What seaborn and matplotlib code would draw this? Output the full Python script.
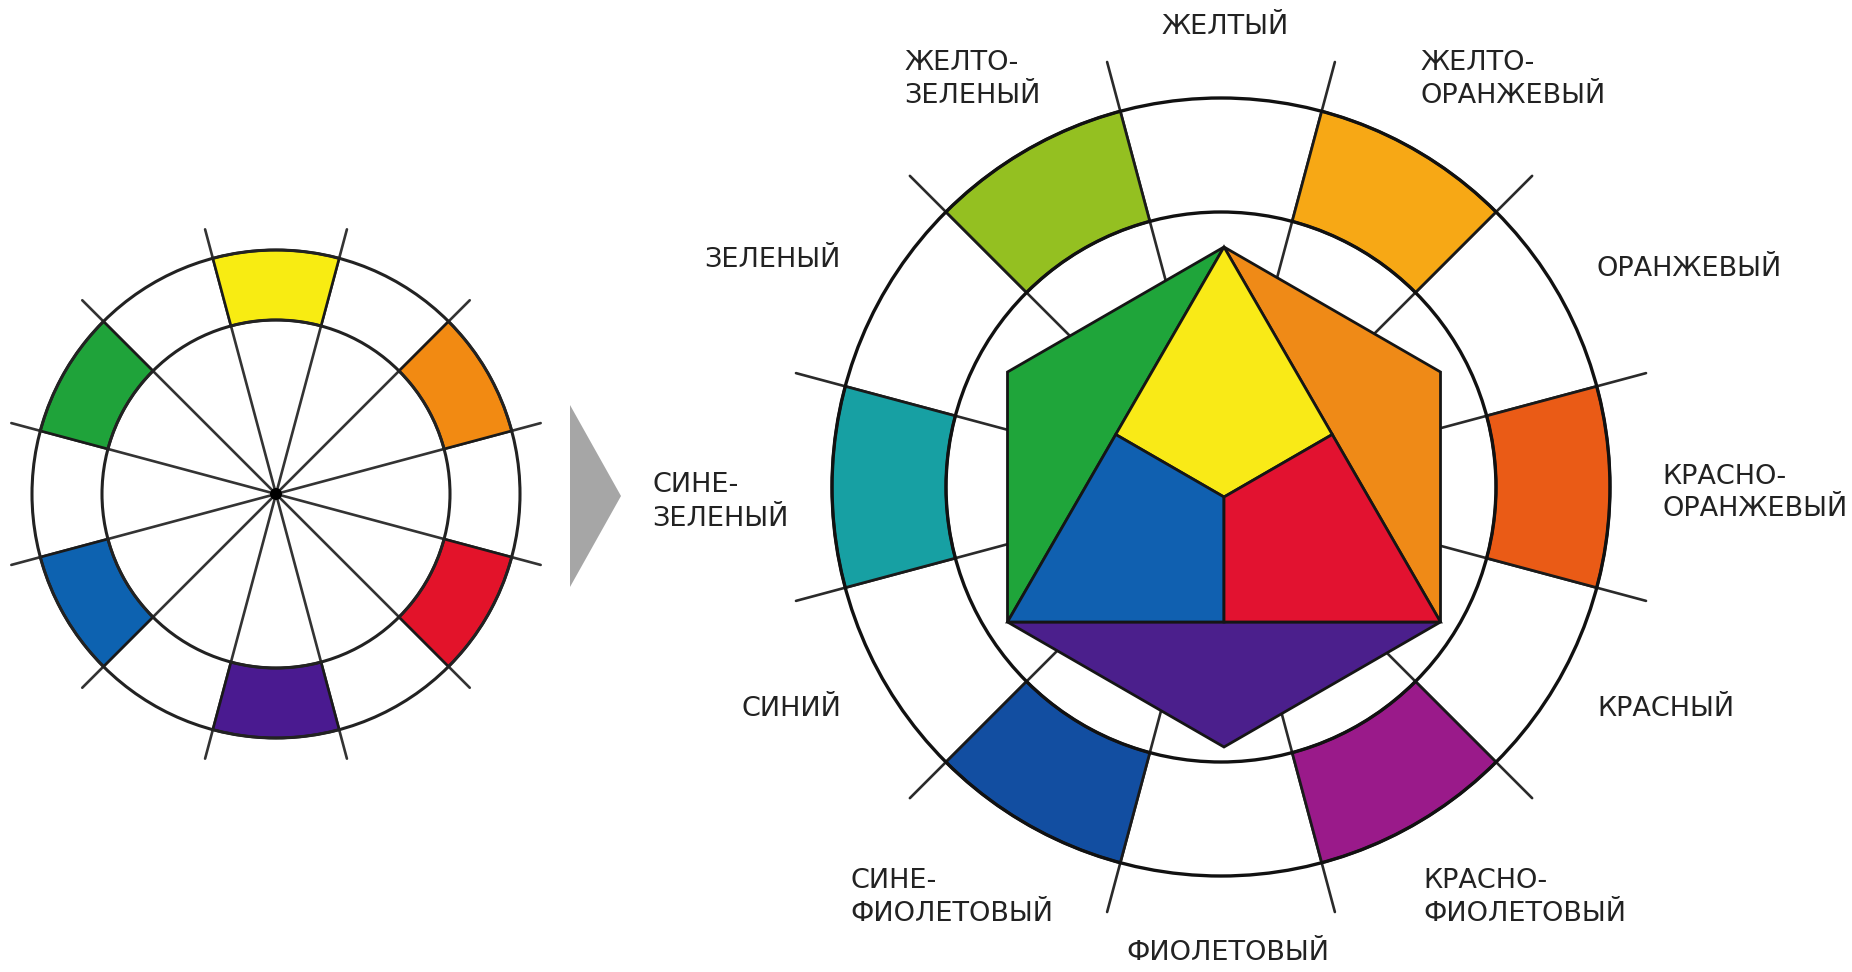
import numpy as np
import matplotlib
matplotlib.use("Agg")
import matplotlib.pyplot as plt
from matplotlib.patches import Wedge, Circle, Polygon
import seaborn as sns

# --- données : 12 couleurs du cercle d'Itten ---
color_names = ['ЖЕЛТЫЙ', 'ЖЕЛТО-\nОРАНЖЕВЫЙ', 'ОРАНЖЕВЫЙ', 'КРАСНО-\nОРАНЖЕВЫЙ',
               'КРАСНЫЙ', 'КРАСНО-\nФИОЛЕТОВЫЙ', 'ФИОЛЕТОВЫЙ', 'СИНЕ-\nФИОЛЕТОВЫЙ',
               'СИНИЙ', 'СИНЕ-\nЗЕЛЕНЫЙ', 'ЗЕЛЕНЫЙ', 'ЖЕЛТО-\nЗЕЛЕНЫЙ']
color_angles = [90, 60, 30, 0, -30, -60, -90, -120, -150, 180, 150, 120]
# petit cercle : primaires + secondaires
left_colors = ['#f8ec12', None, '#f28a12', None, '#e3132a', None,
               '#4a1a90', None, '#0d62b0', None, '#1fa33a', None]
# grand cercle : tertiaires
right_colors = [None, '#f7a815', None, '#ea5b16', None, '#9a1a8a',
                None, '#124ea1', None, '#17a0a3', None, '#94c021']
# hexagone central
hex_colors = {'yellow': '#f9ea17', 'red': '#e21230', 'blue': '#1060b0',
              'orange': '#ef8a17', 'violet': '#4b1f8c', 'green': '#1fa53a'}

# --- mise en page (pixels, origine en haut à gauche) ---
W, H = 1852, 972
label_pos = [  # x, y, ha
    (1225, 27, 'center'), (1420, 80, 'left'), (1597, 269, 'left'), (1662, 493, 'left'),
    (1597, 709, 'left'), (1423, 897, 'left'), (1228, 953, 'center'), (850, 897, 'left'),
    (841, 709, 'right'), (652, 502, 'left'), (841, 260, 'right'), (904, 80, 'left'),
]

sns.set_theme(style='white')
plt.rcParams['font.family'] = ['DejaVu Sans']


def up(y):
    return H - y


def pt(c, r, a):
    return (c[0] + r * np.cos(np.radians(a)), c[1] + r * np.sin(np.radians(a)))


fig = plt.figure(figsize=(W / 100, H / 100), dpi=100)
ax = fig.add_axes([0, 0, 1, 1])
ax.set_xlim(0, W)
ax.set_ylim(0, H)
ax.axis('off')

# 1. petit cercle
lc = (276, up(494))
l_out, l_in, l_line = 244, 174, 274
for a in range(15, 195, 30):
    p1, p2 = pt(lc, l_line, a), pt(lc, l_line, a + 180)
    ax.plot([p1[0], p2[0]], [p1[1], p2[1]], color='#333333', lw=1.9, zorder=1)
for a, col in zip(color_angles, left_colors):
    if col:
        ax.add_patch(Wedge(lc, l_out, a - 15, a + 15, width=l_out - l_in,
                           fc=col, ec='#1a1a1a', lw=1.9, zorder=2))
for r in (l_out, l_in):
    ax.add_patch(Circle(lc, r, fill=False, ec='#222222', lw=2.2, zorder=3))
ax.add_patch(Circle(lc, 6, fc='black', ec='none', zorder=4))

# 2. flèche
ax.add_patch(Polygon([(570, up(405)), (570, up(587)), (621, up(496))],
                     closed=True, fc='#a6a6a6', ec='none'))

# 3. grand cercle
rc = (1221, up(487))
r_out, r_mid, r_line = 389, 275, 440
for a in range(15, 375, 30):
    p = pt(rc, r_line, a)
    ax.plot([rc[0], p[0]], [rc[1], p[1]], color='#2a2a2a', lw=1.9, zorder=1)
for a, col in zip(color_angles, right_colors):
    if col:
        ax.add_patch(Wedge(rc, r_out, a - 15, a + 15, width=r_out - r_mid,
                           fc=col, ec='#1a1a1a', lw=2.0, zorder=2))
for r in (r_out, r_mid):
    ax.add_patch(Circle(rc, r, fill=False, ec='#111111', lw=2.4, zorder=3))

# 4. hexagone et triangle
hc = (1224, up(497))
R = 250
v = {a: pt(hc, R, a) for a in (90, 30, -30, -90, -150, 150)}
mid = lambda p, q: ((p[0] + q[0]) / 2, (p[1] + q[1]) / 2)
m_left, m_right, m_bot = mid(v[90], v[-150]), mid(v[90], v[-30]), mid(v[-150], v[-30])
pieces = [
    ([v[90], v[150], v[-150]], 'green'),
    ([v[90], v[30], v[-30]], 'orange'),
    ([v[-150], v[-90], v[-30]], 'violet'),
    ([v[90], m_left, hc, m_right], 'yellow'),
    ([m_left, v[-150], m_bot, hc], 'blue'),
    ([hc, m_bot, v[-30], m_right], 'red'),
]
for verts, key in pieces:
    ax.add_patch(Polygon(verts, closed=True, fc=hex_colors[key], ec='#151515',
                         lw=2.0, joinstyle='miter', zorder=4))

# 5. libellés
for name, (x, y, ha) in zip(color_names, label_pos):
    ax.text(x, up(y), name, ha=ha, va='center', fontsize=19.5, color='#222222',
            linespacing=1.35, zorder=5)

fig.savefig('out.png', dpi=100, facecolor='white')
